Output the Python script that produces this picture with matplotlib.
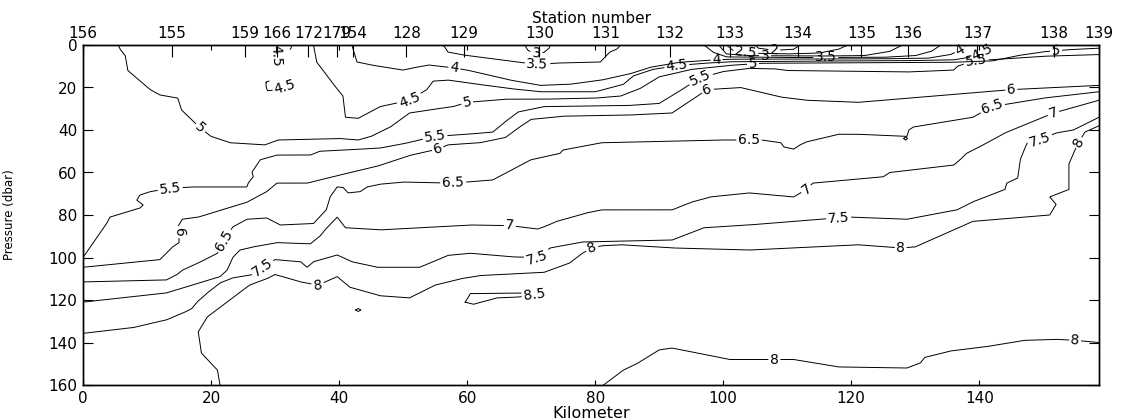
import numpy as np
import matplotlib
matplotlib.use('Agg')
import matplotlib.pyplot as plt

# stations along the section: position (km) and station number
station_km = [0, 13.9, 25.3, 30.3, 35.2, 39.7, 42.2, 50.5, 59.5, 71.3, 81.6,
              91.7, 101.1, 111.7, 121.6, 128.9, 139.7, 151.6, 158.7]
station_no = ['156', '155', '159', '166', '172', '179', '154', '128', '129', '130',
              '131', '132', '133', '134', '135', '136', '137', '138', '139']

# isotherms, as (km, dbar) polylines
iso_2 = [(105, 0), (105.5, 1.5), (108, 2.5), (111, 2), (112, 0)]
iso_2_5 = [(100.5, 0), (101.5, 2.5), (104, 3.8), (110, 4.2), (115, 3.8), (118, 2), (119.5, 0)]
iso_3a = [(69, 0), (69.5, 2.5), (70.5, 4), (72, 3.5), (72.8, 1.5), (73, 0)]
iso_3b = [(99.3, 0), (100.5, 4.2), (104, 5.0), (115, 5.2), (122, 5.0), (126, 3), (128, 0)]
iso_3_5a = [(56.1, 0), (56.5, 0.9), (57, 3.3), (59.4, 4.7), (67.8, 8), (71.1, 9.2), (74, 8.5),
            (80.8, 8), (82.3, 3.3), (83.4, 1.9), (84, 0)]
iso_3_5b = [(97, 0), (98.5, 3.5), (100.5, 5.6), (110, 5.9), (125, 5.8), (130, 5), (132.5, 3), (134, 0)]
iso_4 = [(42, 0), (42.3, 3), (42.8, 8), (45, 9.4), (50, 11.8), (51.5, 10.8), (54, 9.4), (58, 10.8),
         (60, 11.8), (66.7, 16.5), (71.4, 19), (76, 18.5), (81, 16.5), (85.5, 13.5), (88.6, 10.5),
         (93, 8.2), (97, 7.3), (101, 6.7), (110, 6.6), (125, 6.5), (132, 6.2), (135.5, 4.5),
         (137.3, 2), (138, 0)]
iso_4_5a = [(30.2, 0), (30.2, 5), (30.4, 10), (31.6, 10.2), (32.3, 7), (31.8, 4), (32.5, 1.5), (32.6, 0)]
iso_4_5b = [(28.6, 17.5), (30, 15.8), (32, 16), (32.9, 18.3), (31, 20), (29.6, 21.3), (28.8, 21.5),
            (28.6, 19.5), (28.6, 17.5)]
iso_4_5c = [(36, 0), (36.2, 3), (36.5, 8), (39, 18), (40.6, 24), (41, 34), (43, 34.5), (46.4, 29),
            (51, 26), (53.7, 21), (54.7, 17), (57, 16.5), (60.5, 18), (66.7, 20.5), (71.4, 22),
            (80, 22), (81.3, 21), (84.4, 18.5), (86, 14.5), (89, 11.5), (93, 9.6), (97, 8.6),
            (101, 7.9), (112, 7.6), (128, 7.4), (136, 7.0), (139, 5.5), (141, 3), (142, 0)]
iso_5 = [(5.5, 0), (5.8, 2), (6.6, 5), (7, 12), (10.5, 21), (12, 23.5), (14.8, 25), (15.4, 30.6),
         (18.3, 39), (20, 43), (23, 46), (28.4, 47), (30.5, 44.7), (40, 44), (43, 44.7), (45, 43),
         (48, 38.6), (51, 32), (54, 30.6), (57.8, 29), (60, 27), (66, 25.5), (72, 25.5), (80, 25),
         (84, 24), (87, 20.5), (90, 15), (95, 11.5), (101, 9.6), (106, 8.6), (120, 8.4), (135, 8.2),
         (142, 7.5), (146, 5), (150, 3.2), (154, 2.2), (158.7, 1.5)]
iso_5_5 = [(0, 100), (1.6, 93), (3.7, 84), (4.2, 81), (8.9, 76.7), (9.4, 75.3), (8.4, 73), (8.9, 70.6),
           (10.5, 69), (13.6, 67.5), (17, 66.8), (25.6, 66.8), (25.8, 65), (26.6, 62), (26.4, 59.8),
           (27.7, 54), (30.3, 51.8), (35.5, 51.8), (37, 50), (41, 49.4), (46.4, 48.5), (50, 46.5),
           (55, 43), (60, 42), (64, 41), (66, 36), (68, 31.5), (72, 29), (85, 28.5), (90, 27.5),
           (93, 22), (96.4, 15.5), (100, 12.5), (104, 11), (108, 11.2), (110, 12), (128.7, 12.7),
           (136, 11.8), (136.6, 10), (139, 7.5), (145, 6.3), (150, 5.3), (158.7, 4.5)]
iso_6 = [(0, 104.6), (12, 101), (13, 98), (14, 95), (15, 93), (15, 87), (14.8, 85.6), (15.5, 82),
         (18, 81), (25.6, 74), (28.7, 69), (30.3, 65), (35, 65), (39, 62), (46, 57), (51, 52),
         (55.4, 49), (57, 47), (62, 46), (66, 43.5), (68, 39), (70, 35), (75, 33.5), (85, 33),
         (92, 32), (95, 26), (97.5, 21), (102.7, 20), (109, 24.5), (113, 26), (121, 27), (129, 25),
         (137, 23), (145, 21), (158.7, 19)]
iso_6_5a = [(0, 111.5), (13, 110.6), (14.7, 108), (15.5, 106), (18, 102.6), (21, 98), (22, 92),
            (23.4, 85.6), (25.6, 82), (28.7, 81.4), (30.8, 84.7), (36, 84), (38, 77.6), (38.6, 71.5),
            (39.7, 66.8), (40.6, 67), (41.4, 69.6), (43.3, 69), (44.4, 66.8), (46.4, 65.5), (50, 64.5),
            (57.8, 65), (64, 63.5), (65.6, 61), (69, 55.5), (70, 54), (74.5, 51), (75, 49.4), (81, 46),
            (99.5, 44.7), (106, 44.7), (109, 46), (109.5, 48), (111, 49), (112, 47), (113, 45.6),
            (118, 42), (121, 42), (128.7, 43), (129, 40), (129.7, 38.6), (139, 34), (142, 29),
            (150, 25), (158.7, 22)]
iso_6_5b = [(128.2, 44), (128.5, 43.2), (128.8, 44), (128.5, 44.8), (128.2, 44)]
iso_7 = [(0, 121), (13, 116.7), (17, 113), (21.4, 109), (22.5, 106), (23.4, 100), (24.5, 96.5),
         (26.6, 95), (30.3, 93), (35.5, 93.6), (37, 90), (37.8, 87), (39.7, 81), (41, 86), (46.4, 87),
         (60.5, 84.7), (66.7, 85), (71, 86.6), (72, 85.6), (74, 83), (78.7, 79), (81, 77.6), (92, 77.6),
         (95, 74), (98, 71.5), (104, 69.6), (111, 71.5), (113, 68), (114, 65), (125, 62), (126, 60),
         (136, 56.5), (137, 54), (138, 51), (140, 48), (144, 41.4), (151.6, 32), (158.7, 26)]
iso_7_5 = [(0, 135.7), (7.8, 133), (13, 129.4), (16, 125.6), (17, 124), (17.8, 121), (19.4, 116.7),
           (21.4, 112), (23.4, 109.6), (26.6, 108), (28, 104.5), (30, 101), (34, 102), (35, 104.6),
           (36, 102), (39.7, 98.8), (42, 102), (46, 104.6), (52.6, 104.6), (57, 99), (60.5, 98),
           (67, 99.7), (71, 100), (73, 95.5), (78, 92.7), (92, 91.8), (97, 86), (104, 84.7), (115, 82),
           (120, 81), (128.7, 82), (134, 79), (136.5, 77.6), (139, 73.8), (144, 68), (144.3, 65),
           (146, 62.6), (146.4, 54), (147, 49.4), (147.5, 46), (149.5, 44.7), (152, 41.4),
           (154.7, 40), (158.7, 34)]
iso_8a = [(21.4, 160), (21, 153), (18.5, 145), (18, 135), (19.4, 128), (22.5, 121), (26, 113),
          (28.7, 110), (30, 108), (34, 111.5), (36.7, 113), (39.7, 109), (41.7, 114), (46.4, 118),
          (51, 119), (55, 113), (59, 110), (62, 108.5), (72, 107), (76, 102.6), (78, 98), (79.5, 95.5),
          (81, 94.5), (84, 94), (92, 95.5), (104, 96.5), (121, 94), (127.7, 95.5), (130, 95), (136, 87),
          (139, 83), (151, 80), (152, 75), (151, 71.5), (154, 68), (154, 56), (155, 49), (155.5, 46),
          (156.5, 41), (158.7, 38)]
iso_8b = [(81.3, 160), (84.4, 153), (86.5, 150), (90, 143.5), (92, 142.6), (101, 148), (108, 148),
          (111, 148), (118, 151.5), (128.7, 152), (130.8, 149.6), (131.5, 147), (135.5, 144), (141, 142),
          (147, 139), (152, 138.5), (155, 139), (158.7, 140)]
iso_8c = [(42.6, 124.7), (43, 124), (43.4, 124.7), (43, 125.4), (42.6, 124.7)]
iso_8_5 = [(59.7, 121), (60.5, 117), (68, 116.7), (71.8, 117.2), (68, 118.6), (64.7, 119),
           (61, 122), (59.7, 121)]

isolines = [(2.0, iso_2), (2.5, iso_2_5), (3.0, iso_3a), (3.0, iso_3b), (3.5, iso_3_5a),
            (3.5, iso_3_5b), (4.0, iso_4), (4.5, iso_4_5a), (4.5, iso_4_5b), (4.5, iso_4_5c),
            (5.0, iso_5), (5.5, iso_5_5), (6.0, iso_6), (6.5, iso_6_5a), (6.5, iso_6_5b),
            (7.0, iso_7), (7.5, iso_7_5), (8.0, iso_8a), (8.0, iso_8b), (8.0, iso_8c),
            (8.5, iso_8_5)]

# where the inline labels sit: (isoline, km, dbar)
label_at = [(iso_4_5a, 30.3, 5), (iso_4_5b, 31.5, 19.5), (iso_5, 18.3, 39), (iso_5_5, 13.6, 67.5),
            (iso_6, 15, 88), (iso_6_5a, 22, 92), (iso_7_5, 28, 104.5), (iso_8a, 36.7, 113),
            (iso_4_5c, 51, 26), (iso_4, 58, 10.8), (iso_5, 60, 27), (iso_3_5a, 71, 9),
            (iso_3a, 70.8, 4), (iso_5_5, 55, 43), (iso_6, 55.4, 49), (iso_6_5a, 57.8, 65),
            (iso_7, 66.7, 85), (iso_7_5, 71, 100), (iso_8a, 79.5, 95.5), (iso_8_5, 70.5, 117.5),
            (iso_4_5c, 92.8, 10), (iso_4, 99, 7), (iso_5_5, 96.4, 15.5), (iso_6, 97.5, 21),
            (iso_5, 104.7, 9), (iso_3b, 106.5, 5), (iso_2_5, 103.5, 3.6), (iso_2, 108, 2.4),
            (iso_3_5b, 116, 5.9), (iso_6_5a, 104, 44.7), (iso_7, 113, 68), (iso_7_5, 118, 82),
            (iso_8a, 127.7, 95.5), (iso_8b, 108, 148), (iso_4, 137, 2), (iso_4_5c, 140.5, 4),
            (iso_5_5, 139.5, 7.5), (iso_5, 152, 3), (iso_6, 145, 21), (iso_6_5a, 142, 29),
            (iso_7, 151.6, 32), (iso_7_5, 149.5, 44.7), (iso_8a, 155.5, 46), (iso_8b, 155, 139)]

fig = plt.figure(figsize=(11.29, 4.19), dpi=100)
ax = fig.add_axes([83 / 1129, 1 - 385 / 419, 1016 / 1129, 340 / 419])
ax.set_xlim(0, 158.7)
ax.set_ylim(160, 0)
renderer = fig.canvas.get_renderer()
to_disp = ax.transData.transform
to_data = ax.transData.inverted().transform


def dense_path(line, step=0.5):
    # walk the polyline in pixel space so gaps can be cut around labels
    d = to_disp(np.asarray(line, float))
    s = np.concatenate([[0], np.cumsum(np.hypot(*np.diff(d, axis=0).T))])
    t = np.append(np.arange(0, s[-1], step), s[-1])
    return np.column_stack([np.interp(t, s, d[:, 0]), np.interp(t, s, d[:, 1])])


paths = [dense_path(line) for _, line in isolines]
cuts = [[] for _ in isolines]

for line, km, p in label_at:
    k = [i for i, (_, l) in enumerate(isolines) if l is line][0]
    lev = isolines[k][0]
    pts = paths[k]
    c = to_disp([[km, p]])[0]
    i = np.argmin(np.hypot(*(pts - c).T))
    a, b = pts[max(i - 14, 0)], pts[min(i + 14, len(pts) - 1)]
    ang = np.degrees(np.arctan2(b[1] - a[1], b[0] - a[0]))
    if ang > 90:
        ang -= 180
    elif ang < -90:
        ang += 180
    xd, yd = to_data([pts[i]])[0]
    txt = ax.text(xd, yd, '%g' % lev, ha='center', va='center', fontsize=10,
                  rotation_mode='anchor', zorder=3)
    bb = txt.get_window_extent(renderer)
    txt.set_rotation(ang)
    cuts[k].append((pts[i], np.radians(ang), bb.width, bb.height))

for k, (lev, line) in enumerate(isolines):
    pts = paths[k].copy()
    for c, th, w, h in cuts[k]:
        rel = pts - c
        u = rel[:, 0] * np.cos(th) + rel[:, 1] * np.sin(th)
        v = -rel[:, 0] * np.sin(th) + rel[:, 1] * np.cos(th)
        pts[(np.abs(u) < w / 2 + 2) & (np.abs(v) < h)] = np.nan
    xy = to_data(pts)
    ax.plot(xy[:, 0], xy[:, 1], color='k', lw=0.7, zorder=2)

ax.set_xticks(range(0, 141, 20))
ax.set_yticks(range(0, 161, 20))
ax.set_xlabel('Kilometer', fontsize=11.5, labelpad=0)
ax.set_ylabel('Pressure (dbar)', fontsize=8.5)
ax.yaxis.set_label_coords(-0.066, 0.5)

# station numbers along the top
ax2 = ax.twiny()
ax2.set_xlim(ax.get_xlim())
ax2.set_xticks(station_km)
ax2.set_xticklabels(station_no)
ax2.tick_params(axis='x', direction='in', length=8.6, width=0.8, labelsize=11, pad=3)
ax2.set_xlabel('Station number', fontsize=11, labelpad=2)

ax.tick_params(axis='x', direction='in', top=True, length=3.6, width=0.8, labelsize=11, pad=4)
ax.tick_params(axis='y', direction='in', right=True, length=7.2, width=0.8, labelsize=11, pad=4)
for a in (ax, ax2):
    for s in a.spines.values():
        s.set_linewidth(1.0)

fig.savefig('out.png', dpi=100)
